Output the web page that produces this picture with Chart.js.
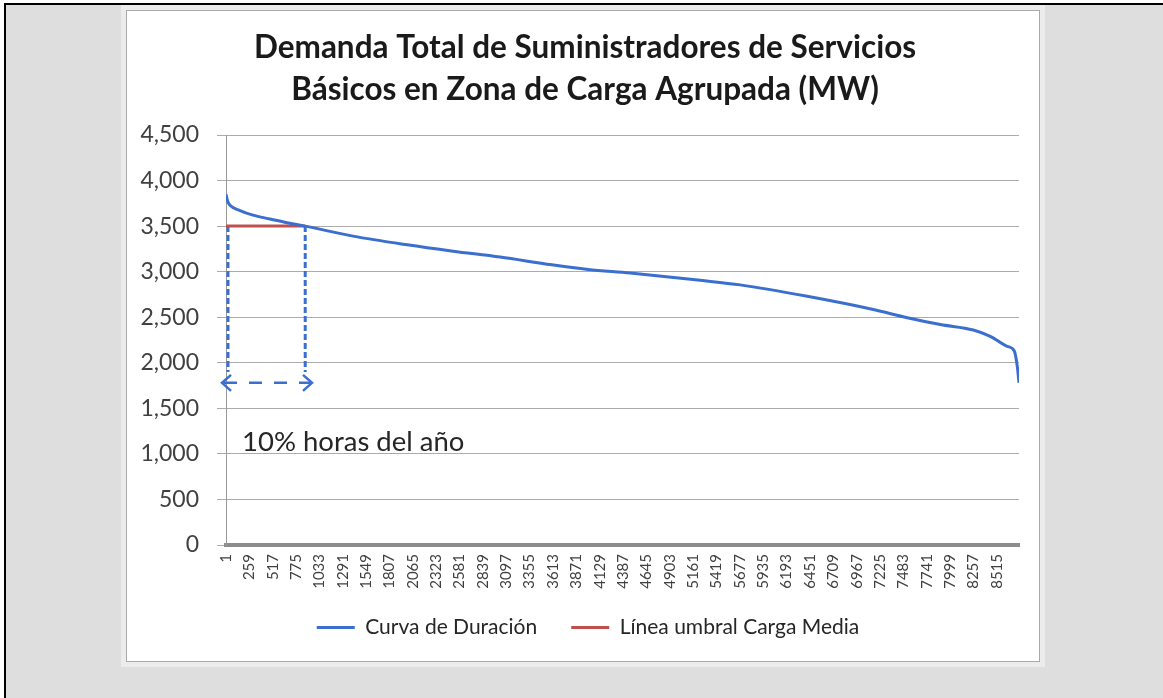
<!DOCTYPE html>
<html>
<head>
  <script src="https://cdn.jsdelivr.net/npm/chart.js"></script>
  <title>Demanda Total de Suministradores de Servicios Básicos</title>
  <style>
    body { margin: 0; background: #fff; width: 1163px; height: 698px; overflow: hidden; position: relative; }
    #frame { position: absolute; left: 4px; top: 3px; right: -4px; bottom: -4px; background: #dedede;
             border-left: 2px solid #000; border-top: 2px solid #000; }
    #card { position: absolute; left: 126px; top: 10px; width: 914px; height: 652px; box-sizing: border-box;
            background: #fff; border: 1px solid #a9a9a9; box-shadow: 0 0 0 5px #ececec; }
    #wrap { position: absolute; left: 127px; top: 11px; width: 912px; height: 650px; }
  </style>
</head>
<body>
  <div id="frame"></div>
  <div id="card"></div>
  <div id="wrap"><canvas id="durationChart"></canvas></div>

  <script>
    // curva de duracion (hora del año -> MW)
    const hours  = [1, 20, 45, 156, 299, 487, 675, 876, 1404, 2001, 2509, 3029, 3600, 4000, 4465, 5239, 5680, 6421, 7150, 7526, 7891, 8255, 8443, 8631, 8708, 8741, 8760];
    const demand = [3850, 3770, 3730, 3670, 3620, 3578, 3537, 3500, 3390, 3295, 3225, 3160, 3075, 3025, 2985, 2905, 2855, 2730, 2585, 2495, 2420, 2360, 2290, 2180, 2130, 1960, 1780];

    // linea umbral carga media
    const thresholdHours = [1, 876];
    const thresholdValue = 3500;

    // marcas del 10% de horas
    const markerHours = [23, 876];
    const markerRange = [3500, 1900];
    const arrowHours = [-43, 951];
    const arrowLevel = 1780;
    const noteText = '10% horas del año';
    const noteHour = 178;
    const noteLevel = 1030;

    const hourTicks = [1, 259, 517, 775, 1033, 1291, 1549, 1807, 2065, 2323, 2581, 2839, 3097, 3355, 3613, 3871,
      4129, 4387, 4645, 4903, 5161, 5419, 5677, 5935, 6193, 6451, 6709, 6967, 7225, 7483, 7741, 7999, 8257, 8515];

    const blue = '#3a6fcf';
    const red = '#c0504d';
    const font = 'Lato';

    const annotations = {
      id: 'annotations',
      afterDatasetsDraw(chart) {
        const { ctx, scales: { x, y } } = chart;
        const ay = y.getPixelForValue(arrowLevel);
        const x0 = x.getPixelForValue(arrowHours[0]);
        const x1 = x.getPixelForValue(arrowHours[1]);
        ctx.save();
        ctx.strokeStyle = blue;
        ctx.lineWidth = 2.5;
        ctx.setLineDash([13, 12]);
        ctx.beginPath();
        ctx.moveTo(x0 + 2, ay);
        ctx.lineTo(x1 - 2, ay);
        ctx.stroke();
        ctx.setLineDash([]);
        ctx.beginPath();
        ctx.moveTo(x0 + 9, ay - 8); ctx.lineTo(x0, ay); ctx.lineTo(x0 + 9, ay + 8);
        ctx.moveTo(x1 - 9, ay - 8); ctx.lineTo(x1, ay); ctx.lineTo(x1 - 9, ay + 8);
        ctx.stroke();
        ctx.font = '27.5px ' + font;
        ctx.fillStyle = '#262626';
        ctx.textBaseline = 'alphabetic';
        ctx.fillText(noteText, x.getPixelForValue(noteHour), y.getPixelForValue(noteLevel));
        ctx.restore();
      }
    };

    // recentrar titulo y leyenda como en el original
    const nudge = {
      id: 'nudge',
      afterLayout(chart) {
        chart.titleBlock.left += 6;
        chart.titleBlock.right += 6;
        chart.legend.left += 9;
        chart.legend.right += 9;
        chart.legend.top -= 12;
        chart.legend.bottom -= 12;
      }
    };

    function build() {
      const ctx = document.getElementById('durationChart').getContext('2d');
      new Chart(ctx, {
        type: 'line',
        data: {
          datasets: [
            {
              label: 'Curva de Duración',
              data: hours.map((h, i) => ({ x: h, y: demand[i] })),
              borderColor: blue,
              backgroundColor: blue,
              borderWidth: 3,
              pointRadius: 0,
              cubicInterpolationMode: 'monotone'
            },
            {
              label: 'Línea umbral Carga Media',
              data: thresholdHours.map(h => ({ x: h, y: thresholdValue })),
              borderColor: red,
              backgroundColor: red,
              borderWidth: 3,
              pointRadius: 0
            },
            {
              label: 'm1',
              data: markerRange.map(v => ({ x: markerHours[0], y: v })),
              borderColor: blue,
              borderWidth: 3,
              borderDash: [6, 3],
              pointRadius: 0,
              clip: false
            },
            {
              label: 'm2',
              data: markerRange.map(v => ({ x: markerHours[1], y: v })),
              borderColor: blue,
              borderWidth: 3,
              borderDash: [6, 3],
              pointRadius: 0,
              clip: false
            }
          ]
        },
        options: {
          responsive: true,
          maintainAspectRatio: false,
          animation: false,
          layout: { padding: { left: 12, right: 20, top: 0, bottom: 1 } },
          plugins: {
            title: {
              display: true,
              text: ['Demanda Total de Suministradores de Servicios', 'Básicos en Zona de Carga Agrupada (MW)'],
              color: '#1a1a1a',
              font: { family: font, size: 31.5, weight: 'bold', lineHeight: '42px' },
              padding: { top: 16, bottom: 24 }
            },
            legend: {
              position: 'bottom',
              labels: {
                filter: item => item.datasetIndex < 2,
                usePointStyle: true,
                pointStyle: 'line',
                pointStyleWidth: 38,
                padding: 34,
                color: '#262626',
                font: { family: font, size: 21 }
              }
            },
            tooltip: { enabled: false }
          },
          scales: {
            x: {
              type: 'linear',
              min: 1,
              max: 8760,
              afterBuildTicks: scale => { scale.ticks = hourTicks.map(v => ({ value: v })); },
              afterFit: scale => { scale.height = 50; },
              grid: { display: false, drawTicks: false },
              border: { display: true, color: '#8c8c8c', width: 4 },
              ticks: {
                autoSkip: false,
                minRotation: 90,
                maxRotation: 90,
                padding: 9,
                color: '#404040',
                font: { family: font, size: 15 },
                callback: v => String(v)
              }
            },
            y: {
              min: 0,
              max: 4500,
              afterFit: scale => { scale.width = 87; },
              grid: { color: '#acacac', lineWidth: 1, tickLength: 9, drawTicks: true },
              border: { display: true, color: '#9a9a9a', width: 1 },
              ticks: {
                stepSize: 500,
                padding: 18,
                color: '#404040',
                font: { family: font, size: 23 },
                callback: v => v.toLocaleString('en-US')
              }
            }
          }
        },
        plugins: [annotations, nudge]
      });
    }

    Promise.all([
      document.fonts.load('28px Lato'),
      document.fonts.load('bold 28px Lato')
    ]).then(build, build);
  </script>
</body>
</html>
